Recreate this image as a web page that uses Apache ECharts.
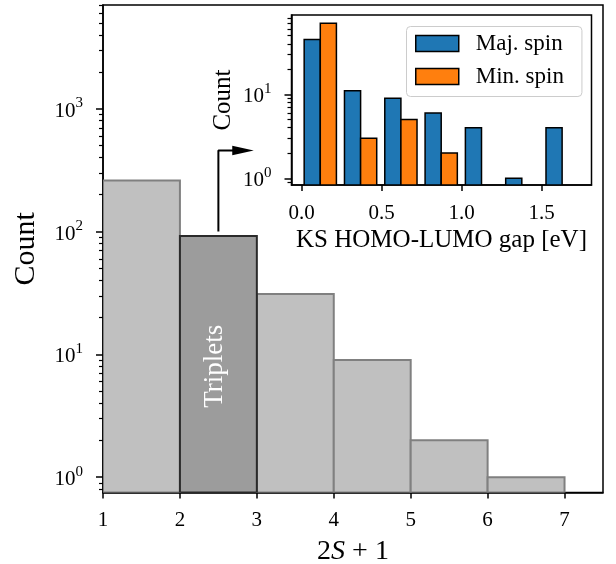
<!DOCTYPE html>
<html>
<head>
<meta charset="utf-8">
<script src="https://cdn.jsdelivr.net/npm/echarts@6/dist/echarts.min.js"></script>
<style>
html,body{margin:0;padding:0;background:#fff;}
#chart{width:616px;height:564px;}
</style>
</head>
<body>
<div id="chart"></div>
<script>
// ---------- data ----------
const multEdges = [1, 2, 3, 4, 5, 6, 7];          // 2S+1 bins
const multCounts = [260, 92, 31, 9, 2, 1];
const highlightBin = 1;                            // triplets
const highlightText = 'Triplets';
const highlightTextY = 8;

const mainXTicks = [1, 2, 3, 4, 5, 6, 7];
const mainYTicks = [1, 10, 100, 1000];
const mainYMinor = [0.8, 0.9, 2, 3, 4, 5, 6, 7, 8, 9, 20, 30, 40, 50, 60, 70, 80, 90,
                    200, 300, 400, 500, 600, 700, 800, 900, 2000, 3000, 4000, 5000, 6000, 7000];

const gapEdges = [-0.0085, 0.2434, 0.4953, 0.7472, 0.9991, 1.2510, 1.5029, 1.7548];
const majSpin = [45, 11, 9, 6, 4, 1, 4];
const minSpin = [70, 3, 5, 2, 0, 0, 0];
const seriesNames = ['Maj. spin', 'Min. spin'];
const insetXTicks = [0, 0.5, 1.0, 1.5];
const insetYTicks = [1, 10];
const insetYMinor = [0.9, 2, 3, 4, 5, 6, 7, 8, 9, 20, 30, 40, 50, 60, 70, 80];

const arrowPath = [[2.5, 100], [2.5, 457], [2.82, 457]];

// ---------- style ----------
const SERIF = '"Liberation Serif", "DejaVu Serif", serif';
const MAIN_YMIN = 0.75, MAIN_YMAX = 7000;
const INS_YMIN = 0.832, INS_YMAX = 88;

const mainData = [];
multCounts.forEach((c, i) => { if (i !== highlightBin) mainData.push([multEdges[i], multEdges[i + 1], c, 0]); });
mainData.push([multEdges[highlightBin], multEdges[highlightBin + 1], multCounts[highlightBin], 1]);

function supLabel(v) {
  const e = Math.round(Math.log10(v));
  return '{b|10}{s|' + e + '}';
}
const supRich = {
  b: { fontFamily: SERIF, fontSize: 21, color: '#000', lineHeight: 26, verticalAlign: 'bottom' },
  s: { fontFamily: SERIF, fontSize: 15, color: '#000', lineHeight: 14, verticalAlign: 'top' }
};

function gapData(counts, which) {
  return counts.map((c, k) => {
    const e0 = gapEdges[k], w = gapEdges[k + 1] - gapEdges[k];
    const x0 = e0 + w * (0.1 + 0.4 * which);
    return [x0, x0 + 0.4 * w, c];
  }).filter(d => d[2] > 0);
}

function histRender(ymin, fills, strokes, lw) {
  return function (params, api) {
    const p0 = api.coord([api.value(0), api.value(2)]);
    const p1 = api.coord([api.value(1), ymin]);
    const hi = api.value(3) || 0;
    const children = [{
      type: 'rect',
      shape: { x: p0[0], y: p0[1], width: p1[0] - p0[0], height: p1[1] - p0[1] },
      style: { fill: fills[hi], stroke: strokes[hi], lineWidth: lw }
    }];
    if (hi === 1) {
      const pc = api.coord([(api.value(0) + api.value(1)) / 2, highlightTextY]);
      children.push({
        type: 'text',
        x: pc[0] - 3, y: pc[1],
        rotation: Math.PI / 2,
        style: { text: highlightText, fill: '#fff', font: '27px ' + SERIF, align: 'center', verticalAlign: 'middle' }
      });
    }
    return { type: 'group', children: children };
  };
}

const axisLineStyle = { color: '#000', width: 1.5 };

const option = {
  animation: false,
  backgroundColor: '#fff',
  grid: [
    { left: 103, top: 5, width: 500, height: 487.5, show: true, borderColor: '#000', borderWidth: 1.5, outerBoundsMode: 'none', containLabel: false },
    { left: 291.5, top: 15, width: 300, height: 170, show: true, borderColor: '#000', borderWidth: 1.5, backgroundColor: '#fff', outerBoundsMode: 'none', containLabel: false }
  ],
  xAxis: [
    {
      gridIndex: 0, type: 'value', min: 1, max: 7.5, position: 'bottom',
      axisLine: { onZero: false, lineStyle: axisLineStyle },
      axisTick: { customValues: mainXTicks, length: 6, lineStyle: { color: '#000', width: 1.5 } },
      axisLabel: { customValues: mainXTicks, fontFamily: SERIF, fontSize: 21, color: '#000', margin: 17 },
      splitLine: { show: false },
      name: '{n|2}{i|S}{n| + 1}', nameLocation: 'middle', nameGap: 45,
      nameTextStyle: { rich: { n: { fontFamily: SERIF, fontSize: 28, color: '#000' }, i: { fontFamily: SERIF, fontSize: 28, fontStyle: 'italic', color: '#000' } } }
    },
    {
      gridIndex: 1, type: 'value', min: -0.0625, max: 1.8125, position: 'bottom',
      axisLine: { onZero: false, lineStyle: axisLineStyle },
      axisTick: { customValues: insetXTicks, length: 6, lineStyle: { color: '#000', width: 1.5 } },
      axisLabel: { customValues: insetXTicks, fontFamily: SERIF, fontSize: 21, color: '#000', margin: 18, formatter: v => v.toFixed(1) },
      splitLine: { show: false },
      name: 'KS HOMO-LUMO gap [eV]', nameLocation: 'middle', nameGap: 43,
      nameTextStyle: { fontFamily: SERIF, fontSize: 25, color: '#000' }
    }
  ],
  yAxis: [
    {
      gridIndex: 0, type: 'log', logBase: 10, min: MAIN_YMIN, max: MAIN_YMAX, position: 'left',
      axisLine: { onZero: false, lineStyle: axisLineStyle },
      axisTick: { customValues: mainYTicks, length: 7, lineStyle: { color: '#000', width: 1.5 } },
      axisLabel: { customValues: mainYTicks, formatter: supLabel, rich: supRich, margin: 20 },
      splitLine: { show: false },
      name: 'Count', nameLocation: 'middle', nameGap: 62,
      nameTextStyle: { fontFamily: SERIF, fontSize: 30, color: '#000' }
    },
    {
      gridIndex: 0, type: 'log', logBase: 10, min: MAIN_YMIN, max: MAIN_YMAX, position: 'left', offset: 0,
      axisLine: { show: false, onZero: false },
      axisTick: { customValues: mainYMinor, length: 4, lineStyle: { color: '#000', width: 1.2 } },
      axisLabel: { show: false },
      splitLine: { show: false }
    },
    {
      gridIndex: 1, type: 'log', logBase: 10, min: INS_YMIN, max: INS_YMAX, position: 'left',
      axisLine: { onZero: false, lineStyle: axisLineStyle },
      axisTick: { customValues: insetYTicks, length: 7, lineStyle: { color: '#000', width: 1.5 } },
      axisLabel: { customValues: insetYTicks, formatter: supLabel, rich: supRich, margin: 20 },
      splitLine: { show: false },
      name: 'Count', nameLocation: 'middle', nameGap: 56,
      nameTextStyle: { fontFamily: SERIF, fontSize: 25, color: '#000' }
    },
    {
      gridIndex: 1, type: 'log', logBase: 10, min: INS_YMIN, max: INS_YMAX, position: 'left', offset: 0,
      axisLine: { show: false, onZero: false },
      axisTick: { customValues: insetYMinor, length: 4, lineStyle: { color: '#000', width: 1.2 } },
      axisLabel: { show: false },
      splitLine: { show: false }
    }
  ],
  legend: {
    orient: 'vertical', left: 406.5, top: 26.5,
    itemWidth: 43, itemHeight: 16, itemGap: 10,
    padding: [5.5, 18, 8.5, 8.5],
    backgroundColor: 'rgba(255,255,255,0.8)', borderColor: '#cccccc', borderWidth: 1, borderRadius: 4,
    textStyle: { fontFamily: SERIF, fontSize: 23, color: '#000', padding: [0, 0, 0, 12], lineHeight: 20 },
    data: [
      { name: seriesNames[0], icon: 'rect', itemStyle: { color: '#1f77b4', borderColor: '#000', borderWidth: 1.5 } },
      { name: seriesNames[1], icon: 'rect', itemStyle: { color: '#ff7f0e', borderColor: '#000', borderWidth: 1.5 } }
    ]
  },
  series: [
    {
      type: 'custom', name: 'mult', xAxisIndex: 0, yAxisIndex: 0, clip: true,
      renderItem: histRender(MAIN_YMIN, ['#c0c0c0', '#9c9c9c'], ['#808080', '#2a2a2a'], 2),
      data: mainData, z: 2
    },
    {
      type: 'line', name: 'arrow', xAxisIndex: 0, yAxisIndex: 0, data: arrowPath,
      lineStyle: { color: '#000', width: 2 }, itemStyle: { color: '#000' },
      symbol: (v, p) => p.dataIndex === arrowPath.length - 1 ? 'triangle' : 'none',
      symbolSize: [9.5, 21.5], symbolRotate: -90, z: 3, silent: true
    },
    {
      type: 'custom', name: seriesNames[0], xAxisIndex: 1, yAxisIndex: 2, clip: true,
      itemStyle: { color: '#1f77b4' },
      renderItem: histRender(INS_YMIN, ['#1f77b4'], ['#000'], 1.5),
      data: gapData(majSpin, 0), z: 5
    },
    {
      type: 'custom', name: seriesNames[1], xAxisIndex: 1, yAxisIndex: 2, clip: true,
      itemStyle: { color: '#ff7f0e' },
      renderItem: histRender(INS_YMIN, ['#ff7f0e'], ['#000'], 1.5),
      data: gapData(minSpin, 1), z: 5
    }
  ]
};

const chart = echarts.init(document.getElementById('chart'), null, { renderer: 'canvas' });
chart.setOption(option);
</script>
</body>
</html>
